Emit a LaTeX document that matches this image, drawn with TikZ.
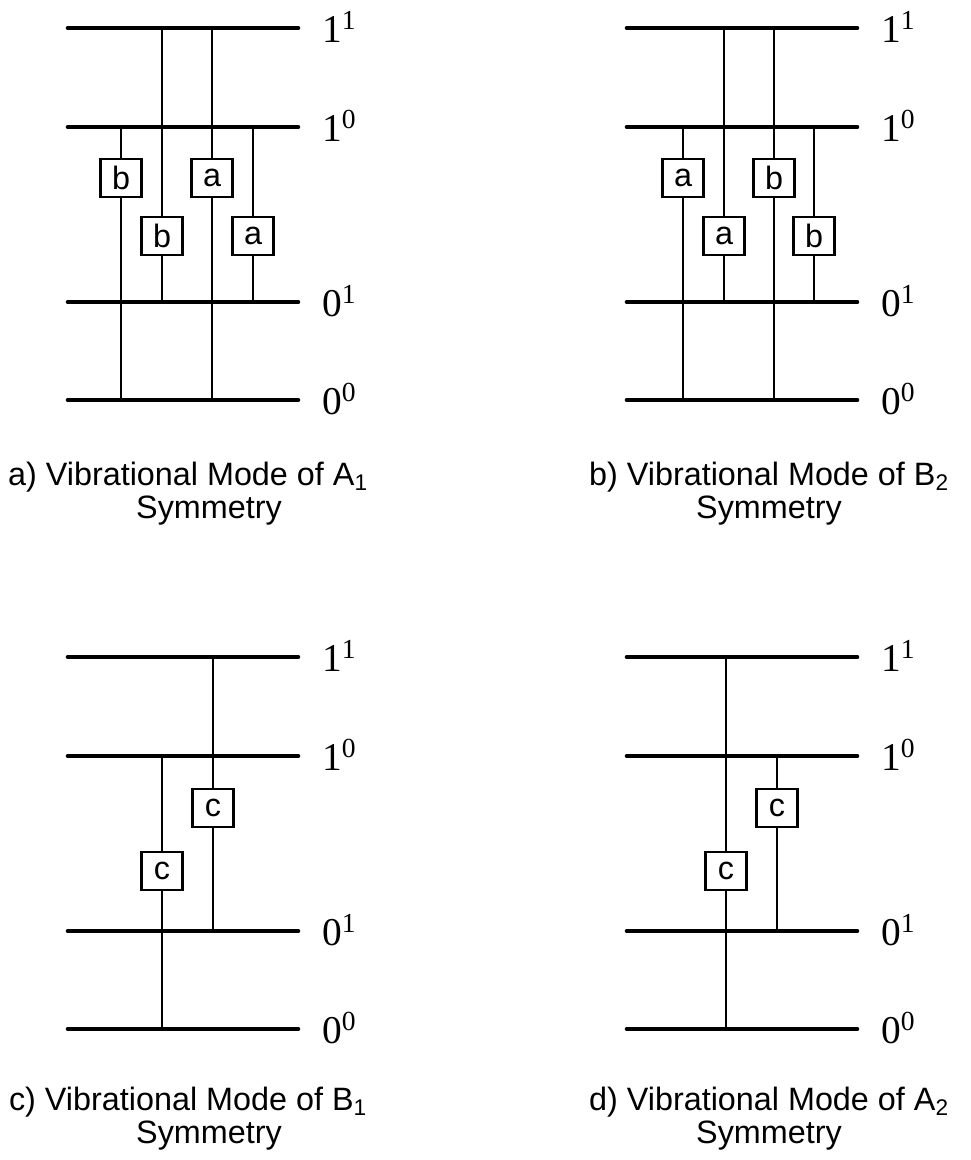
\documentclass[tikz,border=0pt]{standalone}
\usepackage{fontspec}
\setmainfont{Liberation Serif}
\newfontfamily\arialfont{Liberation Sans}
\usetikzlibrary{positioning}
\tikzset{
  level/.style={line width=3.3pt,line cap=round},
  rung/.style={line width=2.1pt},
  tag/.style={draw,line width=1.8pt,fill=white,inner sep=0pt,
    minimum width=1.025cm,minimum height=0.95cm,
    font=\arialfont\fontsize{23}{26}\selectfont},
  lvlabel/.style={anchor=base west,inner sep=0pt,font=\fontsize{28}{31}\selectfont},
  caption/.style={anchor=base,inner sep=0pt,font=\arialfont\fontsize{23}{27}\selectfont}
}

\begin{document}
\begin{tikzpicture}[x=0.025cm,y=-0.025cm]
  \useasboundingbox[fill=white] (0,0) rectangle (971,1160);
  % energy levels of the four panels
  \foreach \p/\x/\y in {a/68/28, b/627/28, c/68/657, d/627/657}{
    \foreach \n/\s/\dy in {1/1/0, 1/0/99, 0/1/274, 0/0/372}{
      \coordinate (\p\n\s) at (\x,\y+\dy);
      \draw[level] (\p\n\s) -- ++(230,0);
      \node[lvlabel] (\p\n\s-lab) at (\x+254,\y+\dy+14) {\n\textsuperscript{\s}};
    }
  }

  % a) A1
  \node[tag] (a-b1) at (121,178) {b};
  \node[tag] (a-b2) at (162,236) {b};
  \node[tag] (a-a1) at (212,178) {a};
  \node[tag] (a-a2) at (253,236) {a};
  \draw[rung] (a-b1) -- (a-b1 |- a10);
  \draw[rung] (a-b1) -- (a-b1 |- a00);
  \draw[rung] (a-b2) -- (a-b2 |- a11);
  \draw[rung] (a-b2) -- (a-b2 |- a01);
  \draw[rung] (a-a1) -- (a-a1 |- a11);
  \draw[rung] (a-a1) -- (a-a1 |- a00);
  \draw[rung] (a-a2) -- (a-a2 |- a10);
  \draw[rung] (a-a2) -- (a-a2 |- a01);

  % b) B2
  \node[tag] (b-a1) at (683,178) {a};
  \node[tag] (b-a2) at (724,236) {a};
  \node[tag] (b-b1) at (774,178) {b};
  \node[tag] (b-b2) at (814,236) {b};
  \draw[rung] (b-a1) -- (b-a1 |- b10);
  \draw[rung] (b-a1) -- (b-a1 |- b00);
  \draw[rung] (b-a2) -- (b-a2 |- b11);
  \draw[rung] (b-a2) -- (b-a2 |- b01);
  \draw[rung] (b-b1) -- (b-b1 |- b11);
  \draw[rung] (b-b1) -- (b-b1 |- b00);
  \draw[rung] (b-b2) -- (b-b2 |- b10);
  \draw[rung] (b-b2) -- (b-b2 |- b01);

  % c) B1
  \node[tag] (c-c1) at (162,871) {c};
  \node[tag] (c-c2) at (213,808) {c};
  \draw[rung] (c-c1) -- (c-c1 |- c10);
  \draw[rung] (c-c1) -- (c-c1 |- c00);
  \draw[rung] (c-c2) -- (c-c2 |- c11);
  \draw[rung] (c-c2) -- (c-c2 |- c01);

  % d) A2
  \node[tag] (d-c1) at (726,871) {c};
  \node[tag] (d-c2) at (777,808) {c};
  \draw[rung] (d-c1) -- (d-c1 |- d11);
  \draw[rung] (d-c1) -- (d-c1 |- d00);
  \draw[rung] (d-c2) -- (d-c2 |- d10);
  \draw[rung] (d-c2) -- (d-c2 |- d01);

  % captions
  \node[caption] (a-cap) at (188,485) {a) Vibrational Mode of A\textsubscript{1}};
  \node[caption] (a-sym) at (209,518) {Symmetry};
  \node[caption] (b-cap) at (769,485) {b) Vibrational Mode of B\textsubscript{2}};
  \node[caption] (b-sym) at (769,518) {Symmetry};
  \node[caption] (c-cap) at (188,1110) {c) Vibrational Mode of B\textsubscript{1}};
  \node[caption] (c-sym) at (209,1143) {Symmetry};
  \node[caption] (d-cap) at (769,1110) {d) Vibrational Mode of A\textsubscript{2}};
  \node[caption] (d-sym) at (769,1143) {Symmetry};
\end{tikzpicture}
\end{document}
